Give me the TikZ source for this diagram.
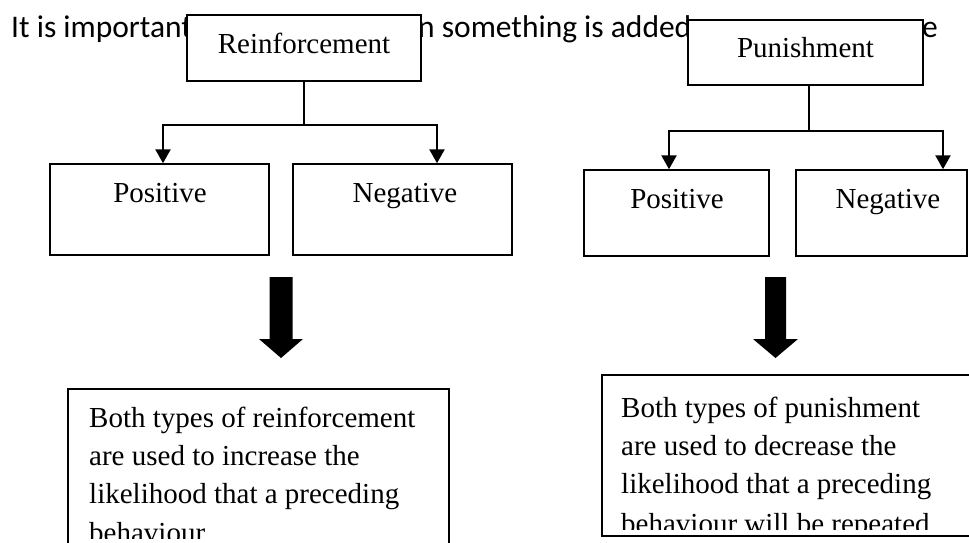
\documentclass[tikz,border=0pt]{standalone}
\usepackage{fontspec}
\setmainfont{Liberation Serif}
\newfontfamily\calfont{Carlito}
\usetikzlibrary{arrows.meta}
\tikzset{
  box/.style={draw, line width=1.5pt, fill=white, inner sep=0pt},
  lbl/.style={font=\fontsize{29}{38}\selectfont, inner sep=0pt, anchor=base},
  body/.style={font=\fontsize{29}{38}\selectfont, inner sep=0pt, anchor=base west},
  toptext/.style={font=\calfont\fontsize{31.5}{38}\selectfont, inner sep=0pt, anchor=base west},
  stem/.style={line width=1.5pt},
  elbow/.style={line width=2.5pt, -{Triangle[width=15pt,length=14pt]}},
  bigarrow/.style={fill=black},
}
\begin{document}
\begin{tikzpicture}[x=1pt,y=-1pt]
\useasboundingbox (0,0) rectangle (969,542);
\fill[white] (0,0) rectangle (969,542);

% sentence behind the boxes
\node[toptext] (t1) at (11,37) {It is important};
\node[toptext] (t2) at (418,37) {n something is added};
\node[toptext,anchor=base east] (t3) at (938,37) {e};

% top boxes
\node[box, minimum width=234pt, minimum height=66pt] (R) at (304,48) {};
\node[lbl] (Rt) at (304,53) {Reinforcement};
\node[box, minimum width=235pt, minimum height=65pt] (P) at (805.5,52.5) {};
\node[lbl] (Pt) at (805.5,57) {Punishment};

% second row boxes
\node[box, minimum width=219pt, minimum height=91pt] (LP) at (159.5,209.5) {};
\node[lbl] (LPt) at (160,202) {Positive};
\node[box, minimum width=219pt, minimum height=91pt] (LN) at (402.5,209.5) {};
\node[lbl] (LNt) at (405,202) {Negative};
\node[box, minimum width=185pt, minimum height=86pt] (RP) at (676.5,213) {};
\node[lbl] (RPt) at (677,208) {Positive};
\node[box, minimum width=171pt, minimum height=86pt] (RN) at (881.5,213) {};
\node[lbl] (RNt) at (888,208) {Negative};

% connectors
\coordinate (rj) at (304,125);
\draw[stem] (R.south) -- (rj);
\draw[elbow] (rj) -| ([xshift=3.5pt]LP.north);
\draw[elbow] (rj) -| ([xshift=34.5pt]LN.north);
\coordinate (pj) at (809,131);
\draw[stem] ([xshift=3.5pt]P.south) -- (pj);
\draw[elbow] (pj) -| ([xshift=-7.5pt]RP.north);
\draw[elbow] (pj) -| ([xshift=61.5pt]RN.north);

% block arrows
\fill[bigarrow] (269.5,277) -- (292.5,277) -- (292.5,339) -- (303,339) -- (281,358) -- (259,339) -- (269.5,339) -- cycle;
\fill[bigarrow] (765,277) -- (786,277) -- (786,339) -- (798,339) -- (775.5,358) -- (753,339) -- (765,339) -- cycle;

% bottom boxes
\node[box, minimum width=381pt, minimum height=181pt] (LB) at (258.5,479.5) {};
\node[box, minimum width=388pt, minimum height=161pt] (RB) at (796,455.5) {};

\begin{scope}
  \clip (60,380) rectangle (460,538);
  \node[body] (lb1) at (89,427) {Both types of reinforcement};
  \node[body] (lb2) at (89,465) {are used to increase the};
  \node[body] (lb3) at (89,503) {likelihood that a preceding};
  \node[body] (lb4) at (89,542) {behaviour};
\end{scope}
\begin{scope}
  \clip (590,370) rectangle (969,529);
  \node[body] (rb1) at (621,417) {Both types of punishment};
  \node[body] (rb2) at (621,455) {are used to decrease the};
  \node[body] (rb3) at (621,493) {likelihood that a preceding};
  \node[body] (rb4) at (621,533) {behaviour will be repeated};
\end{scope}
\end{tikzpicture}
\end{document}
